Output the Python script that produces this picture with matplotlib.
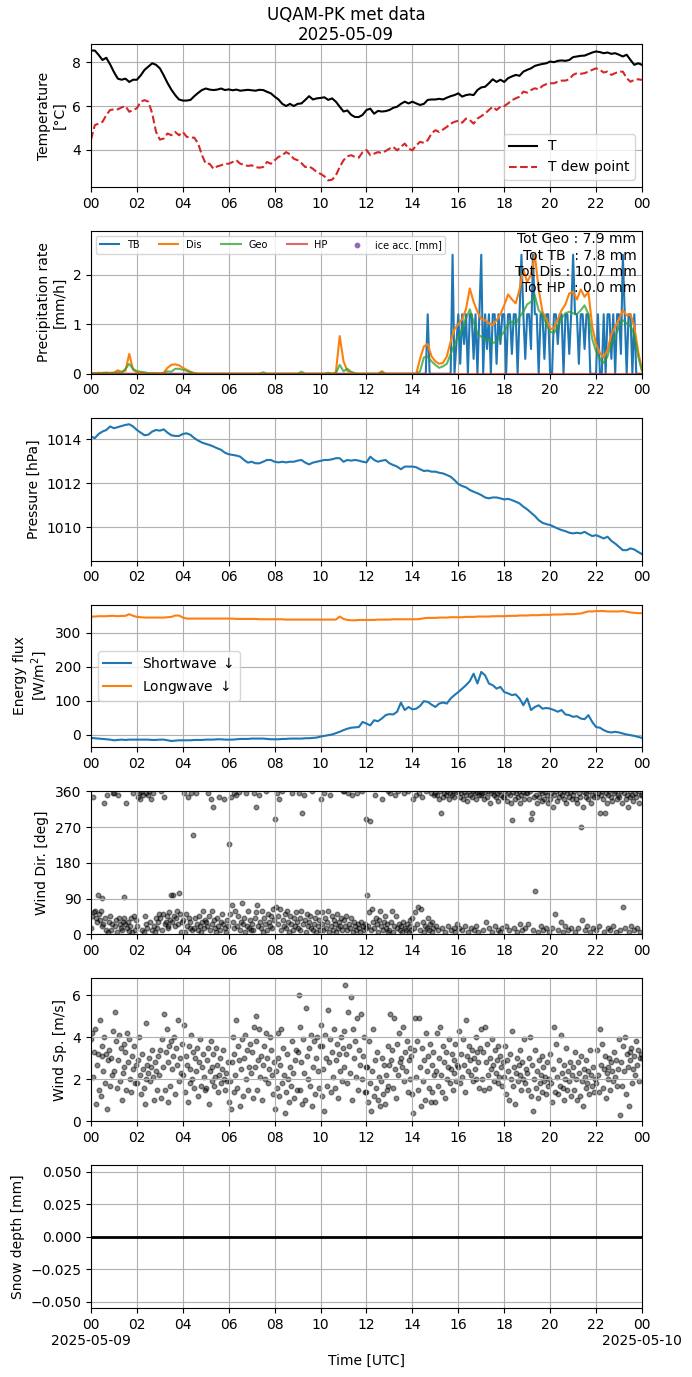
import numpy as np
import pandas as pd
import matplotlib
matplotlib.use("Agg")
import matplotlib.pyplot as plt
import matplotlib.dates as mdates
from matplotlib.ticker import FuncFormatter

DAY = "2025-05-09"

# 10-minute series, 00:00 .. 24:00 (145 values)
t_air = [
    8.53, 8.53, 8.33, 8.10, 8.20, 7.90,
    7.55, 7.25, 7.20, 7.25, 7.10, 7.20,
    7.20, 7.40, 7.65, 7.80, 7.95, 7.88,
    7.72, 7.40, 7.05, 6.75, 6.50, 6.30,
    6.25, 6.25, 6.28, 6.45, 6.60, 6.73,
    6.80, 6.75, 6.73, 6.75, 6.80, 6.73,
    6.76, 6.72, 6.75, 6.70, 6.72, 6.74,
    6.72, 6.70, 6.74, 6.73, 6.65, 6.58,
    6.43, 6.30, 6.10, 6.00, 6.10, 6.00,
    6.10, 6.12, 6.28, 6.45, 6.30, 6.35,
    6.37, 6.40, 6.28, 6.35, 6.20, 5.97,
    5.75, 5.80, 5.60, 5.50, 5.50, 5.60,
    5.82, 5.88, 5.65, 5.78, 5.75, 5.77,
    5.82, 5.92, 5.97, 6.10, 6.20, 6.12,
    6.20, 6.12, 6.05, 6.10, 6.28, 6.30,
    6.30, 6.33, 6.30, 6.38, 6.45, 6.50,
    6.58, 6.43, 6.50, 6.53, 6.50, 6.73,
    6.85, 6.88, 7.04, 7.22, 7.10, 7.20,
    7.10, 7.27, 7.35, 7.42, 7.38, 7.57,
    7.65, 7.72, 7.83, 7.88, 7.92, 7.95,
    8.03, 8.00, 8.06, 8.08, 8.06, 8.10,
    8.23, 8.26, 8.29, 8.30, 8.37, 8.44,
    8.49, 8.46, 8.41, 8.44, 8.38, 8.41,
    8.34, 8.26, 8.34, 8.10, 7.88, 7.95,
    7.88,
]
t_dew = [
    4.47, 5.13, 5.20, 5.28, 5.59, 5.82,
    5.85, 5.85, 5.94, 6.00, 5.74, 5.82,
    5.90, 6.20, 6.27, 6.20, 5.66, 4.82,
    4.47, 4.52, 4.75, 4.67, 4.82, 4.67,
    4.82, 4.60, 4.56, 4.56, 4.29, 3.76,
    3.37, 3.37, 3.14, 3.25, 3.30, 3.37,
    3.37, 3.45, 3.53, 3.37, 3.33, 3.27,
    3.30, 3.22, 3.19, 3.22, 3.45, 3.37,
    3.53, 3.68, 3.76, 3.90, 3.80, 3.60,
    3.53, 3.40, 3.22, 3.25, 3.14, 2.99,
    2.91, 2.80, 2.61, 2.64, 2.84, 3.22,
    3.53, 3.71, 3.76, 3.68, 3.65, 3.90,
    4.00, 3.76, 3.83, 3.90, 3.86, 3.95,
    4.06, 4.14, 3.98, 4.14, 4.29, 4.06,
    3.98, 4.21, 4.37, 4.32, 4.44, 4.75,
    4.90, 4.82, 4.93, 5.05, 5.20, 5.28,
    5.33, 5.24, 5.43, 5.36, 5.20, 5.43,
    5.54, 5.66, 5.82, 5.97, 5.82, 5.97,
    6.00, 6.12, 6.27, 6.35, 6.43, 6.66,
    6.61, 6.73, 6.81, 6.76, 6.92, 7.00,
    7.04, 7.04, 7.11, 7.16, 7.16, 7.22,
    7.42, 7.50, 7.47, 7.50, 7.57, 7.65,
    7.72, 7.65, 7.53, 7.57, 7.42, 7.50,
    7.57, 7.57, 7.27, 7.11, 7.19, 7.22,
    7.19,
]
pressure = [
    1014.12, 1014.05, 1014.24, 1014.35, 1014.42, 1014.58,
    1014.50, 1014.55, 1014.60, 1014.65, 1014.68, 1014.58,
    1014.42, 1014.30, 1014.18, 1014.21, 1014.35, 1014.42,
    1014.39, 1014.45, 1014.30, 1014.18, 1014.15, 1014.15,
    1014.24, 1014.27, 1014.20, 1014.05, 1013.94, 1013.85,
    1013.79, 1013.74, 1013.67, 1013.59, 1013.52, 1013.39,
    1013.32, 1013.29, 1013.26, 1013.21, 1013.06, 1012.94,
    1012.98, 1012.91, 1012.91, 1012.98, 1013.06, 1013.06,
    1012.98, 1012.95, 1012.98, 1012.95, 1012.98, 1012.98,
    1013.03, 1013.06, 1012.94, 1012.86, 1012.94, 1012.98,
    1013.02, 1013.06, 1013.06, 1013.09, 1013.14, 1013.14,
    1012.98, 1013.06, 1013.03, 1013.06, 1013.03, 1012.98,
    1012.95, 1013.21, 1013.06, 1012.98, 1013.03, 1013.06,
    1012.91, 1012.83, 1012.76, 1012.64, 1012.76, 1012.76,
    1012.76, 1012.73, 1012.64, 1012.56, 1012.58, 1012.53,
    1012.53, 1012.48, 1012.45, 1012.38, 1012.30, 1012.15,
    1011.97, 1011.88, 1011.82, 1011.70, 1011.62, 1011.55,
    1011.47, 1011.36, 1011.32, 1011.36, 1011.36, 1011.32,
    1011.27, 1011.30, 1011.24, 1011.17, 1011.09, 1010.94,
    1010.82, 1010.67, 1010.52, 1010.33, 1010.21, 1010.15,
    1010.11, 1010.03, 1009.95, 1009.88, 1009.83, 1009.76,
    1009.73, 1009.76, 1009.73, 1009.80, 1009.70, 1009.61,
    1009.65, 1009.58, 1009.50, 1009.58, 1009.39, 1009.27,
    1009.12, 1008.97, 1008.97, 1009.05, 1009.00, 1008.89,
    1008.79,
]
sw_down = [
    -10, -11, -12, -13, -14, -15,
    -17, -16, -15, -16, -15, -15,
    -15, -15, -15, -15, -16, -16,
    -15, -15, -17, -19, -18, -17,
    -17, -17, -17, -16, -16, -16,
    -15, -15, -15, -14, -14, -15,
    -15, -15, -14, -13, -13, -13,
    -12, -12, -12, -12, -13, -14,
    -14, -14, -13, -13, -12, -12,
    -12, -12, -11, -11, -10, -9,
    -6, -4, -2, 0, 4, 8,
    13, 17, 20, 21, 22, 37,
    32, 27, 42, 39, 47, 57,
    60, 59, 67, 94, 72, 81,
    74, 76, 84, 98, 96, 88,
    81, 91, 94, 91, 106, 116,
    125, 135, 145, 157, 179, 150,
    184, 174, 150, 145, 135, 140,
    125, 121, 116, 118, 106, 86,
    106, 72, 81, 86, 76, 78,
    76, 72, 67, 72, 59, 57,
    52, 54, 47, 45, 57, 37,
    22, 20, 13, 8, 6, 8,
    6, 3, 0, -2, -4, -7,
    -10,
]
lw_down = [
    347, 347, 348, 348, 348, 349,
    349, 348, 349, 349, 354, 349,
    346, 345, 344, 344, 344, 344,
    344, 344, 345, 346, 350, 350,
    344, 341, 341, 341, 341, 341,
    341, 341, 341, 341, 341, 341,
    341, 341, 340, 340, 340, 340,
    340, 340, 339, 339, 339, 339,
    339, 339, 339, 338, 338, 338,
    338, 338, 338, 338, 338, 338,
    338, 338, 338, 338, 338, 347,
    340, 337, 336, 336, 337, 337,
    337, 337, 337, 338, 338, 338,
    338, 339, 339, 339, 339, 339,
    339, 339, 340, 342, 343, 343,
    343, 344, 344, 344, 345, 345,
    345, 345, 346, 346, 346, 347,
    347, 347, 347, 348, 348, 348,
    348, 349, 349, 349, 350, 350,
    350, 351, 351, 351, 352, 352,
    352, 353, 353, 353, 354, 354,
    354, 355, 356, 359, 362, 362,
    363, 363, 363, 362, 362, 362,
    362, 363, 361, 359, 358, 357,
    357,
]
precip_dis = [
    0.01, 0.01, 0.02, 0.01, 0.02, 0.02,
    0.02, 0.07, 0.04, 0.06, 0.40, 0.08,
    0.03, 0.02, 0.01, 0.01, 0.01, 0.01,
    0.01, 0.02, 0.12, 0.18, 0.19, 0.17,
    0.12, 0.08, 0.04, 0.01, 0.00, 0.00,
    0.00, 0.00, 0.00, 0.00, 0.00, 0.00,
    0.00, 0.00, 0.00, 0.00, 0.00, 0.00,
    0.00, 0.00, 0.00, 0.00, 0.00, 0.00,
    0.00, 0.00, 0.00, 0.00, 0.00, 0.00,
    0.00, 0.00, 0.00, 0.00, 0.00, 0.00,
    0.00, 0.00, 0.00, 0.00, 0.03, 0.76,
    0.25, 0.06, 0.02, 0.00, 0.00, 0.00,
    0.00, 0.00, 0.00, 0.00, 0.05, 0.00,
    0.00, 0.00, 0.00, 0.00, 0.00, 0.00,
    0.00, 0.00, 0.30, 0.55, 0.60, 0.35,
    0.25, 0.20, 0.22, 0.35, 0.65, 0.90,
    1.00, 1.10, 1.30, 1.72, 1.45, 1.25,
    1.10, 1.08, 1.02, 0.98, 1.08, 1.20,
    1.38, 1.60, 1.50, 1.42, 1.70, 2.10,
    1.85, 2.00, 2.40, 1.70, 1.25, 1.10,
    0.90, 0.92, 1.10, 1.28, 1.40, 1.62,
    1.65, 1.50, 1.70, 1.55, 1.65, 0.95,
    0.60, 0.42, 0.33, 0.48, 0.80, 0.95,
    1.10, 1.28, 1.18, 1.20, 0.95, 0.45,
    0.08,
]
precip_geo = [
    0.01, 0.01, 0.01, 0.02, 0.02, 0.01,
    0.02, 0.03, 0.02, 0.10, 0.20, 0.10,
    0.05, 0.04, 0.03, 0.01, 0.01, 0.01,
    0.00, 0.01, 0.05, 0.04, 0.10, 0.10,
    0.08, 0.06, 0.03, 0.01, 0.00, 0.00,
    0.00, 0.00, 0.00, 0.00, 0.00, 0.00,
    0.00, 0.00, 0.00, 0.00, 0.00, 0.00,
    0.00, 0.00, 0.00, 0.03, 0.00, 0.00,
    0.00, 0.00, 0.00, 0.00, 0.00, 0.00,
    0.00, 0.04, 0.00, 0.00, 0.00, 0.00,
    0.00, 0.00, 0.02, 0.00, 0.01, 0.18,
    0.05, 0.10, 0.04, 0.01, 0.00, 0.00,
    0.00, 0.00, 0.00, 0.00, 0.03, 0.00,
    0.00, 0.00, 0.00, 0.00, 0.00, 0.00,
    0.00, 0.00, 0.05, 0.33, 0.35, 0.25,
    0.18, 0.12, 0.15, 0.20, 0.40, 0.60,
    0.75, 0.90, 1.10, 1.30, 1.05, 0.80,
    0.75, 0.68, 0.70, 0.62, 0.65, 0.75,
    0.85, 1.00, 1.05, 1.00, 1.15, 1.25,
    1.40, 1.45, 1.58, 1.28, 1.20, 1.00,
    0.85, 0.82, 0.95, 1.12, 1.22, 1.25,
    1.22, 1.20, 1.28, 1.38, 1.20, 0.70,
    0.45, 0.30, 0.22, 0.35, 0.62, 0.75,
    0.95, 1.08, 1.02, 0.96, 0.80, 0.35,
    0.05,
]

# tipping bucket rate [mm/h], 5-minute values, 00:00 .. 24:00
precip_tb = [
    0, 0, 0, 0, 0, 0, 0, 0, 0, 0, 0, 0,
    0, 0, 0, 0, 0, 0, 0, 0, 0, 0, 0, 0,
    0, 0, 0, 0, 0, 0, 0, 0, 0, 0, 0, 0,
    0, 0, 0, 0, 0, 0, 0, 0, 0, 0, 0, 0,
    0, 0, 0, 0, 0, 0, 0, 0, 0, 0, 0, 0,
    0, 0, 0, 0, 0, 0, 0, 0, 0, 0, 0, 0,
    0, 0, 0, 0, 0, 0, 0, 0, 0, 0, 0, 0,
    0, 0, 0, 0, 0, 0, 0, 0, 0, 0, 0, 0,
    0, 0, 0, 0, 0, 0, 0, 0, 0, 0, 0, 0,
    0, 0, 0, 0, 0, 0, 0, 0, 0, 0, 0, 0,
    0, 0, 0, 0, 0, 0, 0, 0, 0, 0, 0, 0,
    0, 0, 0, 0, 0, 0, 0, 0, 0, 0, 0, 0,
    0, 0, 0, 0, 0, 0, 0, 0, 0, 0, 0, 0,
    0, 0, 0, 0, 0, 0, 0, 0, 0, 0, 0, 0,
    0, 0, 0, 0, 0, 0, 0, 0, 1.2, 0, 0, 0,
    0, 0, 0, 0, 0, 0, 0, 0, 0, 2.4, 0, 0.6,
    1.2, 0.2, 1.2, 0.6, 1.2, 0, 1.2, 1.2, 0.3, 1.2, 0, 1.2,
    2.4, 0, 1.2, 0.5, 1.2, 0, 1.2, 1.2, 0.2, 1.2, 0.6, 1.2,
    1.2, 0, 1.2, 1.2, 0.4, 1.2, 1.2, 0, 1.2, 2.4, 1.2, 0.3,
    1.2, 1.2, 0.5, 2.4, 1.2, 1.2, 0, 1.2, 1.2, 0.3, 1.2, 1.2,
    0, 0, 1.2, 1.2, 0.6, 1.2, 1.2, 0, 1.2, 1.2, 0.4, 1.2,
    2.4, 1.2, 1.2, 0.2, 1.2, 1.2, 0.5, 1.2, 1.2, 0, 0, 0,
    0, 1.2, 0, 0, 1.2, 0, 1.2, 1.2, 0.3, 1.2, 0, 1.2,
    1.2, 0.4, 2.4, 1.2, 0, 1.2, 1.2, 0, 1.2, 0, 0, 0,
    0,
]

# hourly series
precip_hp = [0.0] * 25
snow_depth = [0.0] * 25

# 2.5-minute wind samples, one row per hour
wind_dir = [
    15, 45, 345, 55, 60, 40, 30, 100, 50, 35, 60, 20, 92, 25, 330, 40, 12, 350, 5, 30, 45, 10, 25, 355,
    355, 20, 35, 5, 350, 40, 25, 15, 10, 30, 95, 40, 25, 330, 15, 30, 8, 20, 40, 5, 355, 45, 10, 35,
    20, 345, 355, 340, 358, 10, 350, 5, 45, 355, 25, 15, 350, 360, 30, 340, 10, 355, 20, 5, 40, 15, 30, 50,
    40, 360, 10, 50, 345, 25, 30, 45, 20, 15, 55, 35, 98, 30, 100, 45, 20, 40, 60, 25, 103, 50, 5, 30,
    35, 355, 5, 50, 20, 345, 40, 15, 30, 355, 10, 250, 15, 40, 355, 25, 10, 45, 20, 5, 30, 60, 15, 35,
    30, 20, 355, 45, 10, 340, 60, 25, 320, 35, 15, 5, 40, 20, 345, 10, 30, 50, 25, 340, 15, 5, 35, 20,
    228, 50, 345, 75, 30, 355, 15, 60, 350, 20, 45, 358, 10, 30, 80, 25, 40, 5, 355, 20, 60, 15, 35, 10,
    25, 10, 355, 40, 320, 55, 75, 20, 350, 30, 15, 60, 5, 40, 25, 360, 10, 50, 30, 20, 45, 15, 65, 35,
    290, 70, 355, 25, 45, 340, 65, 10, 360, 35, 20, 50, 15, 60, 30, 5, 45, 25, 355, 10, 40, 20, 55, 30,
    15, 355, 40, 10, 60, 305, 25, 350, 35, 5, 50, 20, 30, 45, 15, 360, 10, 25, 40, 5, 55, 20, 35, 10,
    340, 25, 55, 10, 355, 40, 15, 30, 60, 5, 350, 20, 45, 10, 35, 25, 5, 50, 15, 30, 20, 40, 10, 360,
    35, 360, 20, 45, 10, 355, 25, 15, 40, 350, 5, 30, 20, 10, 355, 25, 15, 5, 30, 360, 20, 10, 25, 15,
    290, 98, 20, 55, 285, 10, 65, 30, 15, 350, 40, 25, 5, 35, 60, 20, 340, 10, 30, 45, 15, 25, 5, 360,
    10, 355, 30, 60, 5, 20, 350, 45, 15, 360, 25, 10, 20, 5, 30, 355, 15, 10, 25, 360, 5, 20, 35, 10,
    40, 340, 15, 55, 350, 25, 70, 355, 10, 65, 345, 30, 5, 20, 360, 15, 40, 10, 25, 355, 5, 30, 15, 350,
    355, 20, 350, 10, 340, 360, 305, 15, 345, 355, 5, 350, 360, 20, 340, 355, 10, 350, 360, 15, 345, 5, 358, 25,
    360, 15, 345, 355, 10, 340, 358, 20, 350, 335, 5, 360, 350, 15, 345, 360, 10, 355, 340, 20, 358, 5, 350, 360,
    350, 355, 10, 340, 358, 30, 345, 360, 15, 330, 355, 5, 360, 350, 20, 345, 355, 10, 335, 360, 5, 350, 15, 345,
    345, 360, 20, 335, 355, 10, 350, 330, 288, 358, 15, 340, 355, 5, 345, 360, 25, 330, 350, 10, 358, 340, 15, 355,
    355, 25, 340, 360, 290, 305, 10, 345, 108, 350, 330, 5, 345, 360, 20, 335, 355, 10, 340, 358, 15, 350, 330, 5,
    340, 355, 15, 320, 350, 50, 360, 335, 10, 345, 355, 30, 350, 5, 340, 360, 20, 330, 355, 10, 345, 358, 15, 340,
    350, 360, 5, 340, 330, 15, 355, 345, 270, 35, 320, 358, 10, 345, 355, 20, 340, 360, 5, 330, 350, 15, 345, 358,
    10, 345, 355, 20, 305, 350, 360, 340, 5, 305, 355, 330, 15, 350, 360, 10, 345, 335, 20, 355, 360, 5, 340, 350,
    345, 10, 360, 330, 70, 355, 15, 340, 350, 320, 5, 345, 360, 20, 350, 335, 10, 355, 345, 15, 360, 330, 5, 350,
    350,
]
wind_sp = [
    3.9, 4.2, 2.1, 3.3, 4.4, 0.8, 2.7, 3.2, 1.5, 4.8, 1.2, 3.1, 3.6, 2.4, 4.0, 1.8, 3.2, 0.6, 2.9, 3.4, 1.7, 3.0, 2.2, 4.3,
    2.4, 5.2, 3.8, 1.6, 2.9, 4.1, 1.9, 3.5, 1.0, 2.3, 3.7, 2.6, 3.3, 1.5, 4.2, 2.8, 3.9, 2.0, 1.4, 3.1, 2.5, 3.6, 1.8, 2.7,
    1.8, 2.9, 4.0, 2.2, 1.3, 3.2, 2.5, 1.6, 0.8, 4.7, 2.0, 2.7, 2.3, 3.0, 1.9, 2.6, 3.4, 2.1, 1.0, 2.8, 2.4, 1.5, 3.1, 2.2,
    3.4, 1.1, 3.9, 2.6, 5.1, 1.5, 3.3, 4.4, 0.9, 2.8, 3.6, 1.7, 3.8, 2.5, 3.1, 4.0, 1.3, 3.5, 2.7, 4.8, 1.9, 3.0, 2.3, 3.7,
    2.2, 4.6, 1.4, 3.1, 2.7, 0.9, 3.6, 1.8, 2.5, 4.1, 2.0, 3.3, 1.6, 3.0, 2.4, 3.5, 1.2, 2.8, 3.9, 1.7, 2.6, 3.2, 2.1, 1.5,
    1.6, 2.9, 3.5, 0.8, 2.4, 3.8, 1.9, 2.6, 3.2, 1.7, 2.1, 3.5, 2.7, 1.4, 2.2, 3.0, 1.8, 2.5, 3.4, 2.0, 1.5, 2.3, 1.9, 2.8,
    0.9, 1.9, 0.6, 2.8, 4.0, 1.4, 3.2, 2.2, 4.8, 1.6, 3.6, 2.9, 0.7, 2.5, 3.9, 1.2, 3.0, 4.1, 2.0, 3.4, 1.5, 2.6, 3.7, 2.3,
    3.3, 1.1, 4.5, 2.6, 5.0, 3.8, 1.5, 2.9, 4.4, 2.1, 3.1, 1.0, 2.7, 3.6, 2.0, 4.2, 3.0, 1.8, 2.5, 4.0, 3.4, 2.2, 1.3, 2.8,
    0.6, 2.4, 1.6, 4.2, 3.0, 1.2, 2.7, 4.4, 1.8, 3.5, 2.2, 0.4, 1.4, 3.2, 2.0, 0.9, 2.6, 1.7, 3.8, 2.3, 1.1, 2.9, 3.4, 1.5,
    3.3, 6.0, 1.5, 4.5, 2.8, 0.8, 3.9, 2.3, 1.0, 5.4, 3.1, 2.0, 3.5, 1.7, 4.1, 0.7, 2.6, 3.8, 1.3, 3.0, 4.0, 2.4, 1.6, 3.6,
    4.6, 1.2, 3.6, 2.5, 0.5, 4.1, 3.0, 1.7, 5.3, 2.8, 3.9, 1.4, 3.3, 2.1, 4.4, 1.6, 2.9, 3.7, 1.1, 3.2, 2.4, 4.0, 1.9, 3.5,
    4.3, 2.6, 6.5, 3.2, 1.8, 5.2, 3.6, 2.3, 5.9, 1.0, 4.4, 3.0, 3.8, 2.1, 4.9, 1.5, 3.4, 2.7, 5.1, 2.0, 3.1, 4.0, 1.4, 2.6,
    1.4, 2.6, 0.9, 3.8, 1.8, 0.5, 2.4, 4.4, 1.2, 2.9, 1.6, 3.3, 1.0, 2.1, 0.7, 1.9, 3.0, 1.3, 2.7, 0.8, 2.2, 1.5, 3.6, 1.7,
    2.7, 5.1, 2.9, 3.4, 1.6, 4.9, 2.5, 1.1, 3.7, 2.2, 4.2, 2.8, 3.0, 2.6, 4.5, 1.9, 3.3, 2.4, 3.8, 1.4, 2.9, 3.5, 2.0, 3.1,
    1.3, 0.4, 3.4, 4.9, 2.1, 3.8, 1.5, 4.9, 2.6, 0.7, 3.5, 1.9, 2.9, 1.0, 4.2, 2.4, 3.1, 1.6, 3.7, 0.9, 2.7, 1.4, 3.3, 2.2,
    0.9, 2.4, 4.2, 1.7, 3.0, 4.5, 2.2, 1.4, 3.6, 2.8, 1.1, 3.3, 2.0, 2.6, 3.9, 1.8, 2.5, 3.2, 1.5, 2.9, 2.3, 3.7, 1.9, 2.7,
    2.6, 4.3, 1.8, 3.2, 2.1, 3.9, 2.7, 1.4, 4.8, 3.1, 2.4, 3.6, 2.9, 2.2, 3.4, 1.9, 3.0, 2.5, 4.0, 2.0, 3.3, 2.8, 1.6, 3.5,
    4.4, 2.0, 3.3, 1.5, 4.5, 2.8, 3.7, 2.2, 1.6, 3.0, 2.5, 3.9, 2.7, 1.9, 3.4, 2.3, 2.9, 1.8, 3.6, 2.1, 3.1, 2.6, 1.7, 2.8,
    2.1, 3.6, 1.3, 2.9, 2.4, 1.0, 3.2, 2.0, 4.3, 1.7, 2.6, 0.8, 2.3, 3.0, 1.9, 2.7, 2.2, 3.4, 1.5, 2.8, 2.0, 3.9, 1.8, 2.5,
    2.3, 1.5, 3.0, 4.0, 1.2, 2.7, 0.5, 2.0, 3.4, 1.6, 2.4, 1.1, 2.9, 1.8, 2.2, 3.1, 1.4, 2.6, 1.9, 2.1, 1.3, 2.8, 1.7, 2.0,
    3.2, 1.8, 0.9, 2.5, 4.5, 1.4, 3.7, 2.1, 1.3, 2.9, 1.7, 4.1, 2.3, 1.6, 2.7, 1.0, 2.0, 3.5, 1.5, 2.4, 1.9, 2.8, 1.2, 2.2,
    2.6, 1.5, 3.3, 2.0, 1.0, 2.8, 2.3, 1.2, 3.1, 1.9, 0.7, 2.5, 2.1, 1.6, 2.9, 1.8, 2.4, 1.3, 3.4, 2.2, 1.7, 2.6, 1.4, 2.0,
    1.8, 3.4, 2.2, 1.4, 4.4, 2.7, 3.7, 1.6, 2.5, 3.1, 1.1, 2.3, 2.6, 2.0, 3.0, 1.5, 2.8, 2.4, 1.9, 3.3, 2.1, 2.9, 1.7, 2.5,
    3.9, 0.3, 2.8, 1.7, 3.6, 2.4, 4.0, 1.3, 3.2, 2.6, 0.7, 3.3, 2.9, 3.5, 1.8, 2.5, 3.1, 2.2, 3.8, 2.7, 3.4, 1.9, 3.0, 3.2,
    3.0,
]

totals_text = ("Tot Geo : 7.9 mm\nTot TB  : 7.8 mm\n"
               "Tot Dis : 10.7 mm\nTot HP  : 0.0 mm")

# time axes
t10 = pd.date_range(DAY, periods=len(t_air), freq="10min")
t5 = pd.date_range(DAY, periods=len(precip_tb), freq="5min")
t60 = pd.date_range(DAY, periods=len(snow_depth), freq="60min")
t_wd = pd.date_range(DAY, periods=len(wind_dir), freq="150s")
t_ws = pd.date_range(DAY, periods=len(wind_sp), freq="150s")
x0, x1 = t60[0], t60[-1]

fig, axes = plt.subplots(7, 1, figsize=(6.92, 13.77))
fig.subplots_adjust(left=0.1315, right=0.9277, top=0.968, bottom=0.0501, hspace=0.308)
fig.suptitle("UQAM-PK met data\n2025-05-09", fontsize=12, y=0.996)

# temperature
ax = axes[0]
ax.plot(t10, t_air, color="k", lw=1.5, label="T")
ax.plot(t10, t_dew, color="tab:red", ls="--", lw=1.5, label="T dew point")
ax.set_ylabel("Temperature\n[°C]")
ax.legend(loc="lower right")

# precipitation
ax = axes[1]
ax.plot(t5, precip_tb, color="tab:blue", label="TB")
ax.plot(t10, precip_dis, color="tab:orange", label="Dis")
ax.plot(t10, precip_geo, color="tab:green", alpha=0.75, label="Geo")
ax.plot(t60, precip_hp, color="tab:red", alpha=0.7, label="HP")
ax.scatter([], [], color="tab:purple", s=10, label="ice acc. [mm]")
ax.set_ylim(0, 2.88)
ax.set_ylabel("Precipitation rate\n[mm/h]")
ax.legend(loc="upper left", ncol=5, fontsize=7)
ax.text(0.99, 0.99, totals_text, transform=ax.transAxes, ha="right", va="top")

# pressure
ax = axes[2]
ax.plot(t10, pressure, color="tab:blue")
ax.set_ylabel("Pressure [hPa]")

# radiation
ax = axes[3]
ax.plot(t10, sw_down, color="tab:blue", label="Shortwave $\\downarrow$")
ax.plot(t10, lw_down, color="tab:orange", label="Longwave $\\downarrow$")
ax.set_ylabel("Energy flux\n[W/m$^2$]")
ax.legend(loc="center left")

# wind direction
ax = axes[4]
ax.scatter(t_wd, wind_dir, s=11, color="k", alpha=0.45)
ax.set_ylim(0, 360)
ax.set_yticks([0, 90, 180, 270, 360])
ax.set_ylabel("Wind Dir. [deg]")

# wind speed
ax = axes[5]
ax.scatter(t_ws, wind_sp, s=11, color="k", alpha=0.45)
ax.set_ylim(bottom=0)
ax.set_ylabel("Wind Sp. [m/s]")

# snow depth
ax = axes[6]
ax.plot(t60, snow_depth, color="k", lw=2)
ax.set_ylabel("Snow depth [mm]")
ax.set_xlabel("Time [UTC]")


def bottom_fmt(x, pos=None):
    d = mdates.num2date(x)
    if d.hour == 0:
        return d.strftime("%H\n%Y-%m-%d")
    return d.strftime("%H")


for i, ax in enumerate(axes):
    ax.set_xlim(x0, x1)
    ax.xaxis.set_major_locator(mdates.HourLocator(byhour=range(0, 24, 2)))
    if i == len(axes) - 1:
        ax.xaxis.set_major_formatter(FuncFormatter(bottom_fmt))
    else:
        ax.xaxis.set_major_formatter(mdates.DateFormatter("%H"))
    ax.grid(True)

fig.savefig("out.png", dpi=100)
